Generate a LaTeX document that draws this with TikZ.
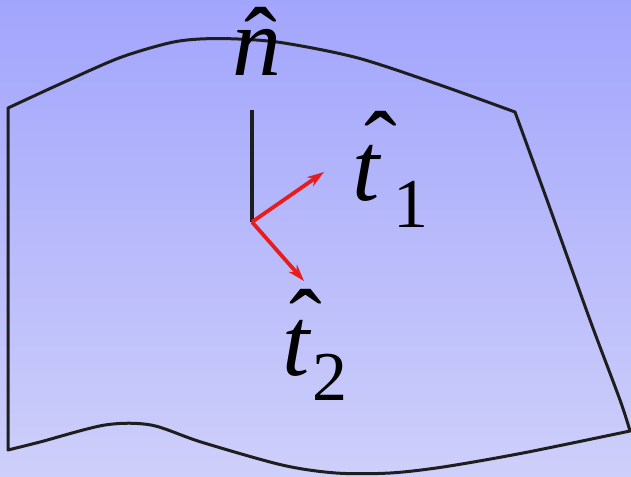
\documentclass[tikz,border=0pt]{standalone}
\usepackage{fontspec}
\setmainfont{Liberation Serif}[ItalicFont={Liberation Serif Italic}]
\usetikzlibrary{arrows.meta}
\definecolor{bgtop}{RGB}{162,165,252}
\definecolor{bgbot}{RGB}{206,207,250}
\definecolor{edge}{RGB}{30,30,30}
\definecolor{vecred}{RGB}{232,28,28}
\tikzset{
  outline/.style={draw=edge, line width=3pt, line join=round},
  normalvec/.style={draw=edge, line width=3.2pt},
  tanvec/.style={draw=vecred, line width=3.8pt, -{Stealth[length=17pt,width=11pt]}},
  bigsym/.style={inner sep=0pt, font=\fontsize{98}{98}\selectfont\itshape},
  subsym/.style={inner sep=0pt, font=\fontsize{70}{70}\selectfont\upshape},
  hatsym/.style={inner sep=0pt, font=\fontsize{98}{98}\selectfont\upshape},
}
\begin{document}
\begin{tikzpicture}[x=1pt,y=-1pt]
\shade[top color=bgtop, bottom color=bgbot] (0,0) rectangle (631,476);
\useasboundingbox (0,0) rectangle (631,476);
% surface patch
\draw[outline] plot[smooth, tension=0.5] coordinates {(8,108) (60,84) (119,58) (169,43) (200,39) (238,39) (284,43) (358,58) (440,85) (515,112)}
  -- plot[smooth, tension=0.5] coordinates {(515,112) (547,200) (590,320) (620,400) (630,431)}
  -- plot[smooth, tension=0.5] coordinates {(630,431) (523,453) (443,467) (390,473) (336,473) (282,465) (201,442) (151,425) (105,425) (40,442) (8,450)}
  -- cycle;
% vectors
\coordinate (o) at (252,222);
\coordinate (ntip) at (252,110);
\coordinate (t1tip) at (324,172);
\coordinate (t2tip) at (304,281);
\draw[normalvec] (o) -- (ntip);
\draw[tanvec] (o) -- (t1tip);
\draw[tanvec] (o) -- (t2tip);
% labels
\node[bigsym, anchor=base west] (nlab) at (232,76) {n};
\node[hatsym, anchor=north] (nhat) at (261,7) {ˆ};
\node[bigsym, anchor=base west] (t1lab) at (352,200) {t};
\node[hatsym, anchor=north] (t1hat) at (381,111) {ˆ};
\node[subsym, anchor=base west] (t1sub) at (393,227) {1};
\node[bigsym, anchor=base west] (t2lab) at (282,375) {t};
\node[hatsym, anchor=north] (t2hat) at (306,289) {ˆ};
\node[subsym, anchor=base west] (t2sub) at (312,400) {2};
\end{tikzpicture}
\end{document}
